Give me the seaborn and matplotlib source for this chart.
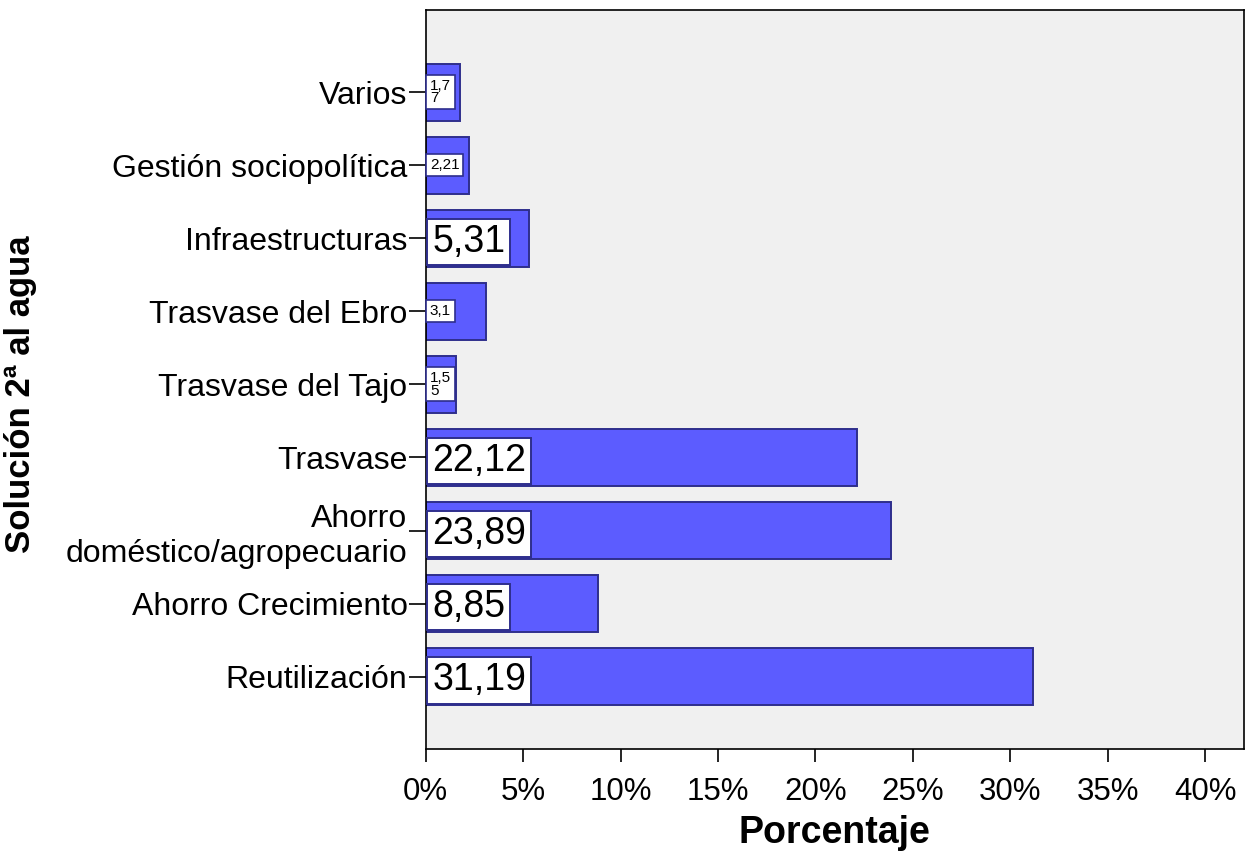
import matplotlib
matplotlib.use("Agg")
import matplotlib.pyplot as plt
import seaborn as sns
import pandas as pd
from matplotlib.ticker import FuncFormatter

categorias = ["Varios", "Gestión sociopolítica", "Infraestructuras",
              "Trasvase del Ebro", "Trasvase del Tajo", "Trasvase",
              "Ahorro\ndoméstico/agropecuario", "Ahorro Crecimiento",
              "Reutilización"]
porcentajes = [1.77, 2.21, 5.31, 3.1, 1.55, 22.12, 23.89, 8.85, 31.19]
etiquetas = ["1,7\n7", "2,21", "5,31", "3,1", "1,5\n5", "22,12", "23,89", "8,85", "31,19"]
etiqueta_grande = [False, False, True, False, False, True, True, True, True]
x_ticks = [0, 5, 10, 15, 20, 25, 30, 35, 40]

df = pd.DataFrame({"categoria": categorias, "porcentaje": porcentajes})

sns.set_theme(style="white")
plt.rcParams["font.family"] = ["Liberation Sans", "DejaVu Sans"]
plt.rcParams["text.color"] = "black"
plt.rcParams["axes.labelcolor"] = "black"
plt.rcParams["xtick.color"] = "black"
plt.rcParams["ytick.color"] = "black"

fig = plt.figure(figsize=(12.52, 8.55), dpi=100)
ax = fig.add_axes([0.340, 0.124, 0.6536, 0.864])
ax.set_facecolor("#F0F0F0")

borde = "#2E2E8C"
sns.barplot(data=df, x="porcentaje", y="categoria", orient="h",
            color="#5C5CFF", saturation=1, width=0.78,
            edgecolor=borde, linewidth=1.4, ax=ax)

# value boxes anchored at the left edge of each bar
for i, (txt, big) in enumerate(zip(etiquetas, etiqueta_grande)):
    if big:
        ax.annotate(txt, xy=(0, i + 0.05), xytext=(4.6, 0),
                    textcoords="offset points", ha="left", va="center",
                    fontsize=27, color="black",
                    bbox=dict(boxstyle="square,pad=0.14", fc="white",
                              ec=borde, lw=1.4))
    else:
        ax.annotate(txt, xy=(0, i), xytext=(3, 0),
                    textcoords="offset points", ha="left", va="center",
                    fontsize=11, color="black", linespacing=0.85,
                    bbox=dict(boxstyle="square,pad=0.25", fc="white",
                              ec=borde, lw=1.2))

ax.set_xlim(0, 42)
ax.set_ylim(8.99, -1.12)
ax.set_xticks(x_ticks)
ax.xaxis.set_major_formatter(FuncFormatter(lambda v, p: f"{v:.0f}%"))

for side in ["left", "bottom", "right", "top"]:
    ax.spines[side].set_color("black")
    ax.spines[side].set_linewidth(1.2)

ax.tick_params(axis="x", which="major", length=9, width=1.2, color="black",
               direction="out", bottom=True, labelsize=22.5, pad=11)
ax.tick_params(axis="y", which="major", length=12, width=1.2, color="black",
               direction="out", left=True, labelsize=23, pad=1)

ax.set_xlabel("Porcentaje", fontsize=27, fontweight="bold", labelpad=6)
ax.set_ylabel("Solución 2ª al agua", fontsize=25, fontweight="bold")
ax.yaxis.set_label_coords(-0.4755, 0.48)

fig.savefig("out.png", dpi=100, facecolor="white")
